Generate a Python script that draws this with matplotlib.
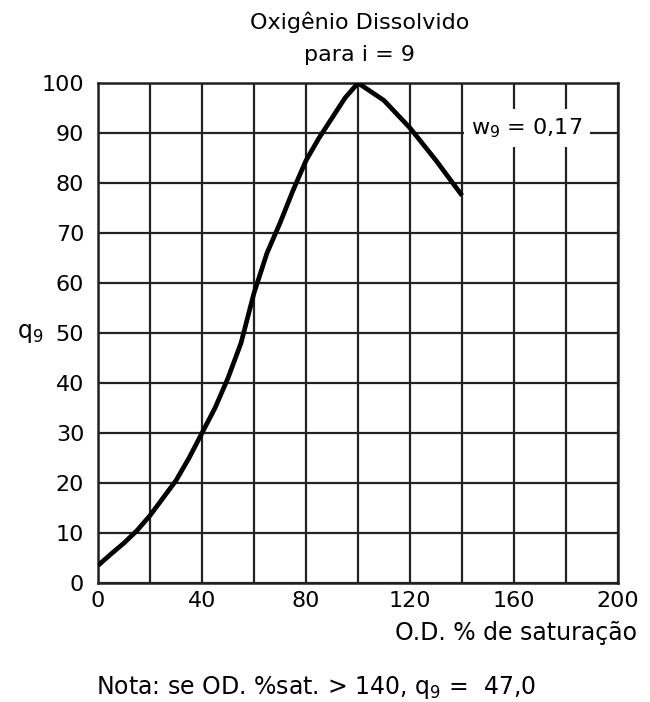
import matplotlib.pyplot as plt

# valores (OD % de saturação x q9)
od_sat = [0, 5, 10, 15, 20, 25, 30, 35, 40, 45, 50, 55, 60, 65, 70, 75, 80, 85, 90, 95, 100,
          110, 120, 130, 140]
q9 = [3.5, 5.8, 8, 10.5, 13.5, 17, 20.5, 25, 30, 35, 41, 48, 58, 66, 72, 78.5, 84.5, 89, 93, 97, 100,
      96.5, 91, 84.5, 77.5]

x_ticks = [0, 40, 80, 120, 160, 200]
y_ticks = list(range(0, 101, 10))

plt.rcParams['font.family'] = ['DejaVu Sans']

fig = plt.figure(figsize=(6.5, 7.02), dpi=100)
ax = fig.add_axes([0.1508, 0.1695, 0.8, 0.7123])

# grade
for gx in range(0, 201, 20):
    ax.axvline(gx, color='#222222', lw=1.6, zorder=1)
for gy in y_ticks:
    ax.axhline(gy, color='#222222', lw=1.6, zorder=1)

ax.plot(od_sat, q9, color='black', lw=3.4, solid_capstyle='butt', zorder=3)

ax.text(165, 91, 'w$_9$ = 0,17', fontsize=16, ha='center', va='center', zorder=4,
        bbox=dict(facecolor='white', edgecolor='none', pad=5))

ax.set_xlim(0, 200)
ax.set_ylim(0, 100)
ax.set_xticks(x_ticks)
ax.set_yticks(y_ticks)
ax.tick_params(length=0, labelsize=16, pad=6)
ax.tick_params(axis='y', pad=10)
for s in ax.spines.values():
    s.set_linewidth(1.8)
    s.set_color('#222222')

fig.text(0.553, 0.969, 'Oxigênio Dissolvido', fontsize=16, ha='center', va='center')
fig.text(0.553, 0.922, 'para i = 9', fontsize=16, ha='center', va='center')
ax.set_ylabel('q$_9$', fontsize=17, rotation=0, va='center')
ax.yaxis.set_label_coords(-0.13, 0.5)
fig.text(0.98, 0.098, 'O.D. % de saturação', fontsize=17, ha='right', va='center')
fig.text(0.147, 0.02, 'Nota: se OD. %sat. > 140, q$_9$ =  47,0', fontsize=17, ha='left', va='center')

fig.savefig('out.png', dpi=100)
